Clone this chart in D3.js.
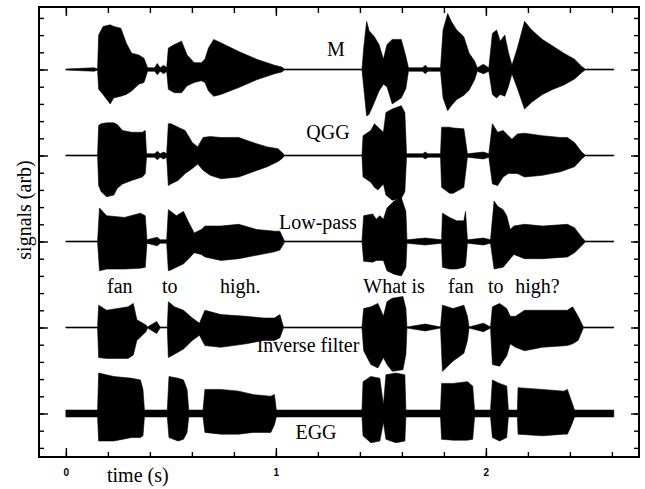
<!DOCTYPE html>
<html>
<head>
<meta charset="utf-8">
<script src="https://cdn.jsdelivr.net/npm/d3@7"></script>
<style>
  body { margin: 0; background: #fff; }
</style>
</head>
<body>
<script>
// envelopes of each trace: [time (s), amplitude above baseline, amplitude below baseline] (arb)
const mSignal = [
  [0, .006, .006], [0.134, .02, .02], [0.151, .006, .006], [0.156, .40, .23], [0.177, .50, .29],
  [0.211, .52, .40], [0.228, .50, .33], [0.262, .48, .31], [0.287, .31, .29], [0.313, .19, .25],
  [0.347, .17, .17], [0.372, .13, .15], [0.389, .02, .02], [0.423, .02, .02], [0.435, .07, .06],
  [0.449, .02, .02], [0.466, .05, .05], [0.480, .02, .02], [0.488, .25, .23], [0.517, .29, .27],
  [0.551, .33, .27], [0.577, .17, .19], [0.611, .08, .15], [0.645, .08, .13], [0.662, .12, .15],
  [0.679, .25, .25], [0.704, .35, .31], [0.738, .31, .29], [0.823, .21, .21], [0.908, .12, .12],
  [0.993, .05, .05], [1.027, .03, .03], [1.041, .006, .006], [1.410, .006, .006], [1.418, .25, .20],
  [1.432, .56, .54], [1.444, .45, .52], [1.469, .38, .38], [1.491, .29, .25], [1.512, .12, .17],
  [1.529, .29, .20], [1.554, .35, .40], [1.597, .35, .33], [1.619, .15, .22], [1.631, .02, .02],
  [1.699, .02, .02], [1.711, .05, .05], [1.724, .02, .02], [1.784, .02, .02], [1.796, .46, .33],
  [1.818, .65, .48], [1.835, .56, .42], [1.861, .46, .35], [1.895, .38, .30], [1.920, .19, .24],
  [1.946, .10, .12], [1.959, .02, .02], [1.988, .06, .05], [2.014, .02, .02], [2.031, .42, .29],
  [2.051, .46, .33], [2.068, .33, .29], [2.090, .40, .31], [2.107, .20, .20], [2.124, .05, .05],
  [2.150, .25, .22], [2.184, .56, .46], [2.218, .46, .38], [2.269, .35, .29], [2.320, .27, .23],
  [2.371, .19, .18], [2.422, .12, .11], [2.459, .03, .03], [2.473, .006, .006], [2.609, .006, .006]
];

const qggSignal = [
  [0, .006, .006], [0.151, .006, .006], [0.156, .35, .35], [0.168, .37, .42], [0.194, .38, .48],
  [0.228, .38, .46], [0.245, .36, .38], [0.270, .29, .33], [0.313, .27, .29], [0.364, .27, .25],
  [0.378, .29, .21], [0.384, .02, .02], [0.423, .02, .02], [0.435, .05, .05], [0.449, .02, .02],
  [0.466, .04, .04], [0.480, .02, .02], [0.488, .37, .35], [0.500, .37, .33], [0.534, .33, .29],
  [0.568, .29, .21], [0.602, .15, .15], [0.628, .10, .10], [0.653, .21, .17], [0.687, .22, .23],
  [0.738, .21, .27], [0.823, .21, .25], [0.891, .15, .19], [0.959, .10, .13], [1.010, .08, .07],
  [1.027, .04, .04], [1.041, .006, .006], [1.410, .006, .006], [1.415, .23, .25], [1.452, .29, .31],
  [1.469, .37, .37], [1.486, .33, .40], [1.512, .27, .33], [1.524, .50, .46], [1.554, .54, .52],
  [1.597, .58, .50], [1.614, .50, .42], [1.622, .02, .02], [1.699, .02, .02], [1.711, .04, .04],
  [1.724, .02, .02], [1.784, .02, .02], [1.789, .33, .37], [1.827, .33, .44], [1.844, .32, .44],
  [1.895, .31, .37], [1.912, .02, .02], [1.988, .04, .04], [2.014, .02, .02], [2.031, .37, .33],
  [2.056, .27, .35], [2.082, .29, .25], [2.107, .23, .21], [2.124, .19, .21], [2.150, .25, .21],
  [2.184, .26, .25], [2.269, .23, .23], [2.354, .21, .19], [2.388, .21, .16], [2.422, .15, .13],
  [2.456, .04, .04], [2.473, .006, .006], [2.609, .006, .006]
];

const lowPassSignal = [
  [0, .006, .006], [0.151, .006, .006], [0.160, .39, .34], [0.194, .30, .32], [0.279, .28, .32],
  [0.355, .33, .31], [0.378, .30, .30], [0.386, .02, .02], [0.435, .05, .05], [0.449, .02, .02],
  [0.480, .02, .02], [0.488, .37, .34], [0.500, .35, .33], [0.526, .30, .30], [0.560, .35, .26],
  [0.585, .22, .20], [0.611, .10, .13], [0.645, .14, .15], [0.662, .18, .18], [0.738, .18, .22],
  [0.823, .20, .20], [0.908, .14, .16], [0.993, .12, .12], [1.019, .12, .10], [1.036, .03, .03],
  [1.041, .006, .006], [1.410, .006, .006], [1.418, .30, .23], [1.461, .32, .24], [1.478, .26, .22],
  [1.495, .30, .22], [1.512, .26, .22], [1.529, .39, .34], [1.563, .47, .38], [1.597, .51, .40],
  [1.619, .35, .30], [1.624, .02, .02], [1.711, .04, .04], [1.789, .02, .02], [1.793, .33, .30],
  [1.827, .28, .32], [1.861, .24, .32], [1.895, .24, .30], [1.903, .35, .28], [1.912, .02, .02],
  [1.988, .04, .04], [2.022, .02, .02], [2.039, .47, .32], [2.056, .41, .31], [2.082, .37, .30],
  [2.099, .30, .25], [2.116, .14, .20], [2.133, .18, .15], [2.184, .20, .20], [2.269, .18, .20],
  [2.388, .20, .18], [2.422, .16, .13], [2.456, .05, .05], [2.473, .006, .006], [2.609, .006, .006]
];

const inverseSignal = [
  [0, .006, .006], [0.151, .006, .006], [0.156, .26, .35], [0.194, .20, .36], [0.245, .22, .36],
  [0.296, .24, .36], [0.321, .28, .32], [0.338, .09, .15], [0.381, .03, .05], [0.389, .006, .006],
  [0.432, .07, .07], [0.449, .006, .006], [0.483, .006, .006], [0.488, .30, .35], [0.517, .24, .31],
  [0.560, .20, .25], [0.602, .11, .15], [0.636, .05, .09], [0.662, .20, .21], [0.738, .15, .23],
  [0.857, .13, .19], [0.942, .11, .15], [0.993, .11, .15], [1.019, .15, .12], [1.036, .006, .006],
  [1.410, .006, .006], [1.418, .22, .27], [1.452, .24, .43], [1.486, .28, .47], [1.512, .13, .35],
  [1.529, .30, .43], [1.554, .34, .51], [1.605, .36, .49], [1.619, .22, .31], [1.624, .006, .006],
  [1.711, .04, .04], [1.784, .006, .006], [1.793, .26, .51], [1.844, .22, .39], [1.895, .26, .30],
  [1.912, .13, .15], [1.920, .006, .006], [1.988, .05, .05], [2.022, .006, .006], [2.031, .24, .43],
  [2.065, .28, .45], [2.099, .22, .33], [2.116, .13, .19], [2.141, .13, .23], [2.184, .20, .27],
  [2.269, .20, .23], [2.388, .20, .21], [2.413, .24, .19], [2.439, .13, .15], [2.464, .006, .006],
  [2.609, .006, .006]
];

const eggSignal = [
  [0, .04, .04], [0.151, .04, .04], [0.156, .47, .32], [0.228, .43, .32], [0.313, .41, .28],
  [0.355, .39, .28], [0.367, .28, .26], [0.374, .04, .04], [0.483, .04, .04], [0.491, .43, .28],
  [0.534, .41, .32], [0.560, .39, .30], [0.577, .28, .22], [0.585, .04, .04], [0.653, .04, .04],
  [0.662, .28, .22], [0.738, .28, .24], [0.823, .26, .24], [0.891, .22, .22], [0.976, .20, .22],
  [0.993, .22, .13], [1.002, .04, .04], [1.410, .04, .04], [1.415, .37, .26], [1.452, .43, .34],
  [1.495, .41, .32], [1.512, .10, .10], [1.524, .45, .30], [1.571, .47, .34], [1.614, .45, .32],
  [1.619, .04, .04], [1.784, .04, .04], [1.789, .35, .30], [1.844, .35, .31], [1.912, .37, .31],
  [1.937, .32, .30], [1.946, .04, .04], [2.022, .04, .04], [2.031, .39, .28], [2.065, .35, .32],
  [2.099, .32, .28], [2.107, .04, .04], [2.150, .04, .04], [2.153, .30, .24], [2.269, .28, .26],
  [2.371, .26, .24], [2.388, .28, .24], [2.405, .16, .15], [2.422, .04, .04], [2.609, .04, .04]
];

const traceNames = ["M", "QGG", "Low-pass", "Inverse filter", "EGG"];
const traceOffsets = [4, 3, 2, 1, 0];
const traceSignals = [mSignal, qggSignal, lowPassSignal, inverseSignal, eggSignal];
// where each name sits: [time (s), offset from its baseline (arb)]
const nameSpots = [[1.286, 0.16], [1.248, 0.19], [1.20, 0.14], [1.153, -0.29], [1.191, -0.30]];

const words = ["fan", "to", "high.", "What is", "fan", "to", "high?"];
const wordTimes = [0.196, 0.458, 0.734, 1.416, 1.82, 2.01, 2.14];
const wordLevel = 1.40;

const timeMajor = [0, 1, 2];
const timeMinor = d3.range(0, 2.61, 0.2);
const sigMajor = [0, 1, 2, 3, 4];
const sigMinor = d3.range(-0.4, 4.61, 0.2);

const width = 645, height = 489;
const frameL = 39, frameT = 7, frameR = 639, frameB = 457;
const serif = "'Liberation Serif', 'Times New Roman', Times, 'DejaVu Serif', serif";

const x = d3.scaleLinear().domain([-0.128, 2.729]).range([frameL, frameR]);
const y = d3.scaleLinear().domain([-0.506, 4.727]).range([frameB, frameT]);

const svg = d3.select("body").append("svg")
    .attr("width", width)
    .attr("height", height);

// waveforms
traceSignals.forEach(function(sig, i) {
    let base = traceOffsets[i];
    let area = d3.area()
        .x(function(d) { return x(d[0]); })
        .y0(function(d) { return y(base - d[2]); })
        .y1(function(d) { return y(base + d[1]); });
    svg.append("path")
        .datum(sig)
        .attr("d", area)
        .attr("fill", "#000")
        .attr("stroke", "#000")
        .attr("stroke-width", 0.6);
});

// axes, all ticks pointing inward
function styleAxis(g) {
    g.select(".domain").remove();
    g.selectAll("line").attr("stroke", "#000").attr("stroke-width", 1.4);
}
svg.append("g").attr("transform", "translate(0," + frameB + ")")
    .call(d3.axisBottom(x).tickValues(timeMinor).tickSize(-5).tickFormat("")).call(styleAxis);
svg.append("g").attr("transform", "translate(0," + frameB + ")")
    .call(d3.axisBottom(x).tickValues(timeMajor).tickSize(-9).tickPadding(12).tickFormat(d3.format("d")))
    .call(styleAxis)
    .selectAll("text")
    .attr("fill", "#000")
    .style("font-family", "'Liberation Sans', Arial, sans-serif")
    .style("font-weight", "bold")
    .style("font-size", "10px");
svg.append("g").attr("transform", "translate(0," + frameT + ")")
    .call(d3.axisTop(x).tickValues(timeMinor).tickSize(-6).tickFormat("")).call(styleAxis);
svg.append("g").attr("transform", "translate(0," + frameT + ")")
    .call(d3.axisTop(x).tickValues(timeMajor).tickSize(-9).tickFormat("")).call(styleAxis);
svg.append("g").attr("transform", "translate(" + frameL + ",0)")
    .call(d3.axisLeft(y).tickValues(sigMinor).tickSize(-5).tickFormat("")).call(styleAxis);
svg.append("g").attr("transform", "translate(" + frameL + ",0)")
    .call(d3.axisLeft(y).tickValues(sigMajor).tickSize(-9).tickFormat("")).call(styleAxis);
svg.append("g").attr("transform", "translate(" + frameR + ",0)")
    .call(d3.axisRight(y).tickValues(sigMinor).tickSize(-5).tickFormat("")).call(styleAxis);
svg.append("g").attr("transform", "translate(" + frameR + ",0)")
    .call(d3.axisRight(y).tickValues(sigMajor).tickSize(-8).tickFormat("")).call(styleAxis);

svg.append("rect")
    .attr("x", frameL).attr("y", frameT)
    .attr("width", frameR - frameL).attr("height", frameB - frameT)
    .attr("fill", "none").attr("stroke", "#000").attr("stroke-width", 2);

// trace names
svg.selectAll(".name")
    .data(traceNames)
    .enter().append("text")
    .attr("class", "name")
    .attr("x", function(d, i) { return x(nameSpots[i][0]); })
    .attr("y", function(d, i) { return y(traceOffsets[i] + nameSpots[i][1]); })
    .attr("text-anchor", "middle")
    .style("font-family", serif)
    .style("font-size", "20px")
    .text(function(d) { return d; });

// spoken words
svg.selectAll(".word")
    .data(words)
    .enter().append("text")
    .attr("class", "word")
    .attr("x", function(d, i) { return x(wordTimes[i]); })
    .attr("y", y(wordLevel))
    .style("font-family", serif)
    .style("font-size", "20px")
    .text(function(d) { return d; });

svg.append("text")
    .attr("x", 107).attr("y", 482)
    .style("font-family", serif)
    .style("font-size", "20px")
    .text("time (s)");

svg.append("text")
    .attr("transform", "translate(31,210) rotate(-90)")
    .attr("text-anchor", "middle")
    .style("font-family", serif)
    .style("font-size", "20px")
    .text("signals (arb)");
</script>
</body>
</html>
